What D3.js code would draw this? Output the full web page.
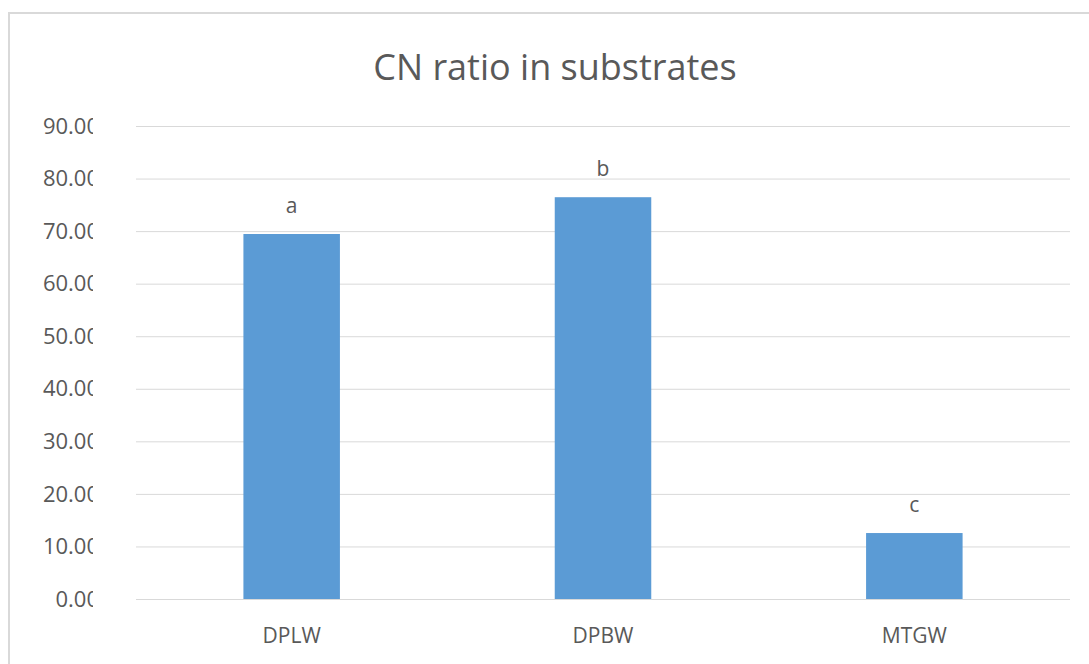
<!DOCTYPE html>
<html>
<head>
<meta charset="utf-8">
<script src="https://cdn.jsdelivr.net/npm/d3@7"></script>
<style>
  html, body { margin: 0; padding: 0; background: #fff; }
  svg { display: block; }
  text { font-family: "Open Sans", "Noto Sans", sans-serif; fill: #595959; }
</style>
</head>
<body>
<svg id="chart" width="1089" height="664"></svg>
<script>
const chartTitle = "CN ratio in substrates";
const categories = ["DPLW", "DPBW", "MTGW"];
const values = [69.45, 76.45, 12.55];
const letters = ["a", "b", "c"];
const yTicks = [0, 10, 20, 30, 40, 50, 60, 70, 80, 90];

const svg = d3.select("#chart");
const W = 1089, H = 664;
const plot = { left: 136, right: 1070, top: 126, bottom: 599 };

// outer frame
svg.append("rect")
  .attr("x", 9).attr("y", 13)
  .attr("width", W + 20).attr("height", H + 20)
  .attr("fill", "none").attr("stroke", "#d9d9d9").attr("stroke-width", 2);

const x = d3.scaleBand().domain(categories).range([plot.left, plot.right]).padding(0);
const y = d3.scaleLinear().domain([0, 90]).range([plot.bottom, plot.top]);

// gridlines
svg.append("g").selectAll("line").data(yTicks).join("line")
  .attr("x1", plot.left).attr("x2", plot.right)
  .attr("y1", d => y(d) + 0.5).attr("y2", d => y(d) + 0.5)
  .attr("stroke", "#d9d9d9").attr("stroke-width", 1);

// y labels (clipped like the reference)
svg.append("defs").append("clipPath").attr("id", "yclip")
  .append("rect").attr("x", 0).attr("y", 0).attr("width", 93).attr("height", H);
svg.append("g").attr("clip-path", "url(#yclip)")
  .selectAll("text").data(yTicks).join("text")
  .attr("x", 99).attr("y", d => y(d))
  .attr("dy", "0.35em")
  .attr("text-anchor", "end")
  .attr("font-size", 22)
  .text(d => d3.format(".2f")(d));

const barW = x.bandwidth() * 0.31;

// bars
svg.append("g").selectAll("rect").data(categories).join("rect")
  .attr("x", (d) => x(d) + x.bandwidth() / 2 - barW / 2)
  .attr("width", barW)
  .attr("y", (d, i) => y(values[i]))
  .attr("height", (d, i) => y(0) - y(values[i]))
  .attr("fill", "#5b9bd5");

// letter labels
svg.append("g").selectAll("text").data(categories).join("text")
  .attr("x", d => x(d) + x.bandwidth() / 2)
  .attr("y", (d, i) => y(values[i]) - 21)
  .attr("text-anchor", "middle")
  .attr("font-size", 21)
  .text((d, i) => letters[i]);

// category labels
svg.append("g").selectAll("text").data(categories).join("text")
  .attr("x", d => x(d) + x.bandwidth() / 2)
  .attr("y", 643)
  .attr("text-anchor", "middle")
  .attr("font-size", 21)
  .text(d => d);

// title
svg.append("text")
  .attr("x", 555).attr("y", 80)
  .attr("text-anchor", "middle")
  .attr("font-size", 36)
  .text(chartTitle);
</script>
</body>
</html>
